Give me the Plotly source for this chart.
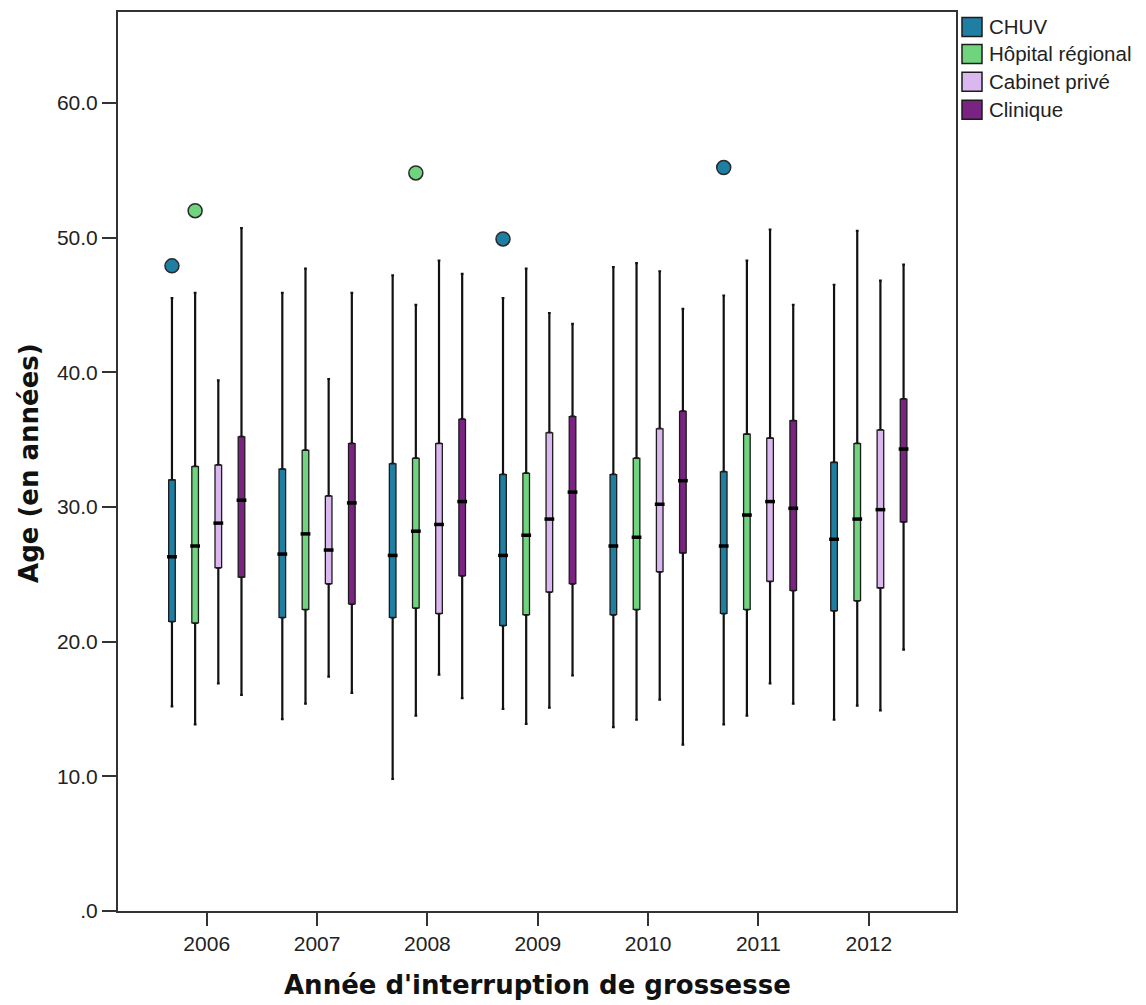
import plotly.graph_objects as go

# Age distribution (years) by year of termination and type of facility
years = ["2006", "2007", "2008", "2009", "2010", "2011", "2012"]
facilities = ["CHUV", "Hôpital régional", "Cabinet privé", "Clinique"]
colors = ["#1f7fa3", "#6fd47d", "#dbb7f0", "#7a2382"]

# five-number summaries per facility, one value per year
lower_chuv = [15.2, 14.25, 9.8, 15.0, 13.65, 13.85, 14.2]
q1_chuv = [21.5, 21.8, 21.8, 21.2, 22.0, 22.1, 22.3]
med_chuv = [26.3, 26.5, 26.4, 26.4, 27.1, 27.1, 27.6]
q3_chuv = [32.0, 32.8, 33.2, 32.4, 32.4, 32.6, 33.3]
upper_chuv = [45.5, 45.9, 47.2, 45.5, 47.8, 45.7, 46.5]

lower_hop = [13.85, 15.4, 14.5, 13.9, 14.2, 14.5, 15.25]
q1_hop = [21.4, 22.4, 22.5, 22.0, 22.4, 22.4, 23.05]
med_hop = [27.1, 28.0, 28.2, 27.9, 27.75, 29.4, 29.1]
q3_hop = [33.0, 34.2, 33.6, 32.5, 33.6, 35.4, 34.7]
upper_hop = [45.9, 47.7, 45.0, 47.7, 48.1, 48.3, 50.5]

lower_cab = [16.9, 17.4, 17.55, 15.1, 15.7, 16.9, 14.9]
q1_cab = [25.5, 24.3, 22.1, 23.7, 25.2, 24.5, 24.0]
med_cab = [28.8, 26.8, 28.7, 29.1, 30.2, 30.4, 29.8]
q3_cab = [33.1, 30.8, 34.7, 35.5, 35.8, 35.1, 35.7]
upper_cab = [39.4, 39.5, 48.3, 44.4, 47.5, 50.6, 46.8]

lower_cli = [16.05, 16.2, 15.8, 17.5, 12.35, 15.4, 19.4]
q1_cli = [24.8, 22.8, 24.9, 24.3, 26.6, 23.8, 28.9]
med_cli = [30.5, 30.3, 30.4, 31.1, 31.95, 29.9, 34.3]
q3_cli = [35.2, 34.7, 36.5, 36.7, 37.1, 36.4, 38.0]
upper_cli = [50.7, 45.9, 47.3, 43.6, 44.7, 45.0, 48.0]

# outlying observations: (facility index, year index, age)
outlier_facility = [0, 1, 1, 0, 0]
outlier_year = [0, 0, 2, 3, 5]
outlier_age = [47.9, 52.0, 54.8, 49.9, 55.2]

y_ticks = [0, 10, 20, 30, 40, 50, 60]
y_tick_text = [".0", "10.0", "20.0", "30.0", "40.0", "50.0", "60.0"]

summaries = [
    (lower_chuv, q1_chuv, med_chuv, q3_chuv, upper_chuv),
    (lower_hop, q1_hop, med_hop, q3_hop, upper_hop),
    (lower_cab, q1_cab, med_cab, q3_cab, upper_cab),
    (lower_cli, q1_cli, med_cli, q3_cli, upper_cli),
]

slot = 0.21
offsets = [(k - 1.5) * slot for k in range(len(facilities))]
tick_font = dict(family="Liberation Sans, Arial, sans-serif", size=21, color="#222222")
title_font = dict(family="DejaVu Sans, Verdana, sans-serif", size=26, color="#111111")

fig = go.Figure()

for k, name in enumerate(facilities):
    lo, q1, med, q3, up = summaries[k]
    xs = [i + offsets[k] for i in range(len(years))]
    # whiskers: heavy black lines with small caps (narrow box hidden underneath)
    fig.add_trace(go.Box(
        x=xs, lowerfence=lo, q1=q1, median=med, q3=q3, upperfence=up,
        name=name, width=0.028, whiskerwidth=0.9,
        fillcolor=colors[k], line=dict(color="#111111", width=2.2),
        showlegend=False, hoverinfo="skip",
    ))
    # interquartile box with a thin outline
    fig.add_trace(go.Box(
        x=xs, lowerfence=q1, q1=q1, median=med, q3=q3, upperfence=q3,
        name=name, width=0.06, whiskerwidth=0,
        fillcolor=colors[k], line=dict(color="#1c1c1c", width=1.3),
        showlegend=False, hoverinfo="skip",
    ))
    # heavier median bar
    fig.add_trace(go.Scatter(
        x=xs, y=med, mode="markers", showlegend=False, hoverinfo="skip",
        marker=dict(symbol="line-ew", size=7, line=dict(color="#000000", width=3.5)),
    ))

for f, yi, age in zip(outlier_facility, outlier_year, outlier_age):
    fig.add_trace(go.Scatter(
        x=[yi + offsets[f]], y=[age], mode="markers", showlegend=False, hoverinfo="skip",
        marker=dict(size=14, color=colors[f], line=dict(color="#2a2a2a", width=1.5)),
    ))

# plot-area geometry in pixels, used to place the legend block
L, R, T, B = 118, 190, 10, 94
W, H = 1146, 1005
pw, ph = W - L - R, H - T - B

def px(xp):
    return (xp - L) / pw

def py(yp):
    return (H - B - yp) / ph

shapes = []
annotations = []
row_centers = [25, 52, 80, 108]
for k, name in enumerate(facilities):
    yc = row_centers[k]
    shapes.append(dict(
        type="rect", xref="paper", yref="paper",
        x0=px(962), x1=px(982), y0=py(yc + 9.5), y1=py(yc - 9.5),
        fillcolor=colors[k], line=dict(color="#1c1c1c", width=1.5), layer="above",
    ))
    annotations.append(dict(
        xref="paper", yref="paper", x=px(987), y=py(yc), text=name,
        showarrow=False, xanchor="left", yanchor="middle",
        font=dict(family="Liberation Sans, Arial, sans-serif", size=20.5, color="#222222"),
    ))

annotations.append(dict(
    xref="paper", yref="paper", x=0.5, y=py(985),
    text="<b>Année d'interruption de grossesse</b>", showarrow=False,
    xanchor="center", yanchor="middle", font=title_font,
))
annotations.append(dict(
    xref="paper", yref="paper", x=px(29), y=py(462),
    text="<b>Age (en années)</b>", showarrow=False, textangle=-90,
    xanchor="center", yanchor="middle", font=title_font,
))

fig.update_layout(
    width=W, height=H,
    margin=dict(l=L, r=R, t=T, b=B, pad=0),
    paper_bgcolor="white", plot_bgcolor="white",
    boxmode="overlay",
    shapes=shapes, annotations=annotations,
    showlegend=False,
)
fig.update_xaxes(
    range=[-0.804, 6.79], tickmode="array",
    tickvals=list(range(len(years))), ticktext=years,
    showgrid=False, zeroline=False,
    showline=True, linecolor="#333333", linewidth=2, mirror=True,
    ticks="outside", ticklen=13, tickwidth=2, tickcolor="#333333",
    tickfont=tick_font,
)
fig.update_yaxes(
    range=[0, 66.75], tickmode="array",
    tickvals=y_ticks, ticktext=y_tick_text,
    showgrid=False, zeroline=False,
    showline=True, linecolor="#333333", linewidth=2, mirror=True,
    ticks="outside", ticklen=14, tickwidth=2, tickcolor="#333333",
    tickfont=tick_font,
)

fig.write_html("out.html")
